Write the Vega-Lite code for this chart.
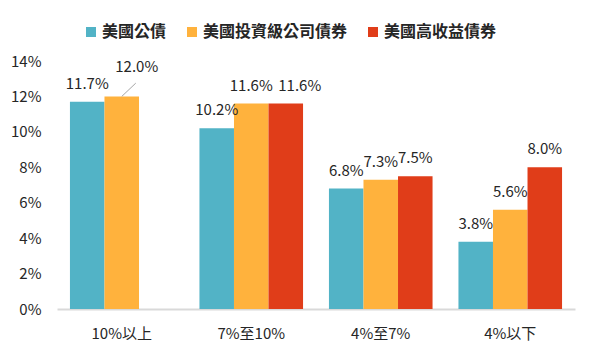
{
  "$schema": "https://vega.github.io/schema/vega-lite/v6.json",
  "width": 518,
  "height": 248,
  "autosize": "none",
  "padding": {"left": 57, "top": 61, "right": 18, "bottom": 47},
  "background": "white",
  "config": {
    "view": {"stroke": null},
    "font": "Noto Sans CJK TC",
    "axis": {"labelFont": "Noto Sans CJK TC", "labelColor": "#262626", "labelFontSize": 15, "grid": false, "ticks": false, "title": null},
    "legend": {"labelFont": "Noto Sans CJK TC"}
  },
  "data": {
    "values": [
      {"category": "10%以上", "series": "美國公債", "value": 0.117},
      {"category": "10%以上", "series": "美國投資級公司債券", "value": 0.120},
      {"category": "7%至10%", "series": "美國公債", "value": 0.102},
      {"category": "7%至10%", "series": "美國投資級公司債券", "value": 0.116},
      {"category": "7%至10%", "series": "美國高收益債券", "value": 0.116},
      {"category": "4%至7%", "series": "美國公債", "value": 0.068},
      {"category": "4%至7%", "series": "美國投資級公司債券", "value": 0.073},
      {"category": "4%至7%", "series": "美國高收益債券", "value": 0.075},
      {"category": "4%以下", "series": "美國公債", "value": 0.038},
      {"category": "4%以下", "series": "美國投資級公司債券", "value": 0.056},
      {"category": "4%以下", "series": "美國高收益債券", "value": 0.080}
    ]
  },
  "encoding": {
    "x": {"field": "category", "type": "nominal", "sort": ["10%以上", "7%至10%", "4%至7%", "4%以下"],
          "scale": {"paddingInner": 0.2, "paddingOuter": 0.1},
          "axis": {"labelAngle": 0, "labelPadding": 17, "domainColor": "#d9d9d9", "domainWidth": 2}},
    "y": {"field": "value", "type": "quantitative", "scale": {"domain": [0, 0.14], "nice": false},
          "axis": {"format": ".0%", "values": [0, 0.02, 0.04, 0.06, 0.08, 0.1, 0.12, 0.14], "labelOverlap": false, "domain": false, "labelPadding": 16}}
  },
  "layer": [
    {
      "mark": {"type": "bar"},
      "encoding": {
        "xOffset": {"field": "series", "type": "nominal", "sort": ["美國公債", "美國投資級公司債券", "美國高收益債券"],
                    "scale": {"domain": ["美國公債", "美國投資級公司債券", "美國高收益債券"], "paddingInner": 0, "paddingOuter": 0}},
        "color": {"field": "series", "type": "nominal",
                  "scale": {"domain": ["美國公債", "美國投資級公司債券", "美國高收益債券"], "range": ["#52b3c6", "#ffb23d", "#e03d19"]},
                  "legend": {"orient": "none", "legendX": 26, "legendY": -37, "direction": "horizontal", "title": null,
                             "symbolType": "square", "symbolSize": 100, "symbolStrokeWidth": 0, "labelFontSize": 16,
                             "labelFontWeight": "bold", "labelColor": "#262626", "columnPadding": 17, "labelOffset": 3}}
      }
    },
    {
      "transform": [{"filter": "!(datum.category == '10%以上' && datum.series == '美國投資級公司債券') && !(datum.category == '7%至10%' && datum.series == '美國高收益債券')"}],
      "mark": {"type": "text", "baseline": "alphabetic", "dy": -13, "fontSize": 15, "color": "#262626"},
      "encoding": {
        "xOffset": {"field": "series", "type": "nominal", "sort": ["美國公債", "美國投資級公司債券", "美國高收益債券"]},
        "text": {"field": "value", "type": "quantitative", "format": ".1%"}
      }
    },
    {
      "transform": [{"filter": "datum.category == '7%至10%' && datum.series == '美國高收益債券'"}],
      "mark": {"type": "text", "baseline": "alphabetic", "dy": -13, "dx": 14, "fontSize": 15, "color": "#262626"},
      "encoding": {
        "xOffset": {"field": "series", "type": "nominal", "sort": ["美國公債", "美國投資級公司債券", "美國高收益債券"]},
        "text": {"field": "value", "type": "quantitative", "format": ".1%"}
      }
    },
    {
      "transform": [{"filter": "datum.category == '10%以上' && datum.series == '美國投資級公司債券'"}],
      "mark": {"type": "text", "baseline": "alphabetic", "dx": 15, "dy": -24, "fontSize": 15, "color": "#262626"},
      "encoding": {
        "text": {"field": "value", "type": "quantitative", "format": ".1%"}
      }
    },
    {
      "transform": [{"filter": "datum.category == '10%以上' && datum.series == '美國投資級公司債券'"}],
      "mark": {"type": "rule", "color": "#a6a6a6", "strokeWidth": 1, "x2Offset": 14},
      "encoding": {
        "x2": {"field": "category"},
        "y2": {"datum": 0.1275}
      }
    }
  ]
}
